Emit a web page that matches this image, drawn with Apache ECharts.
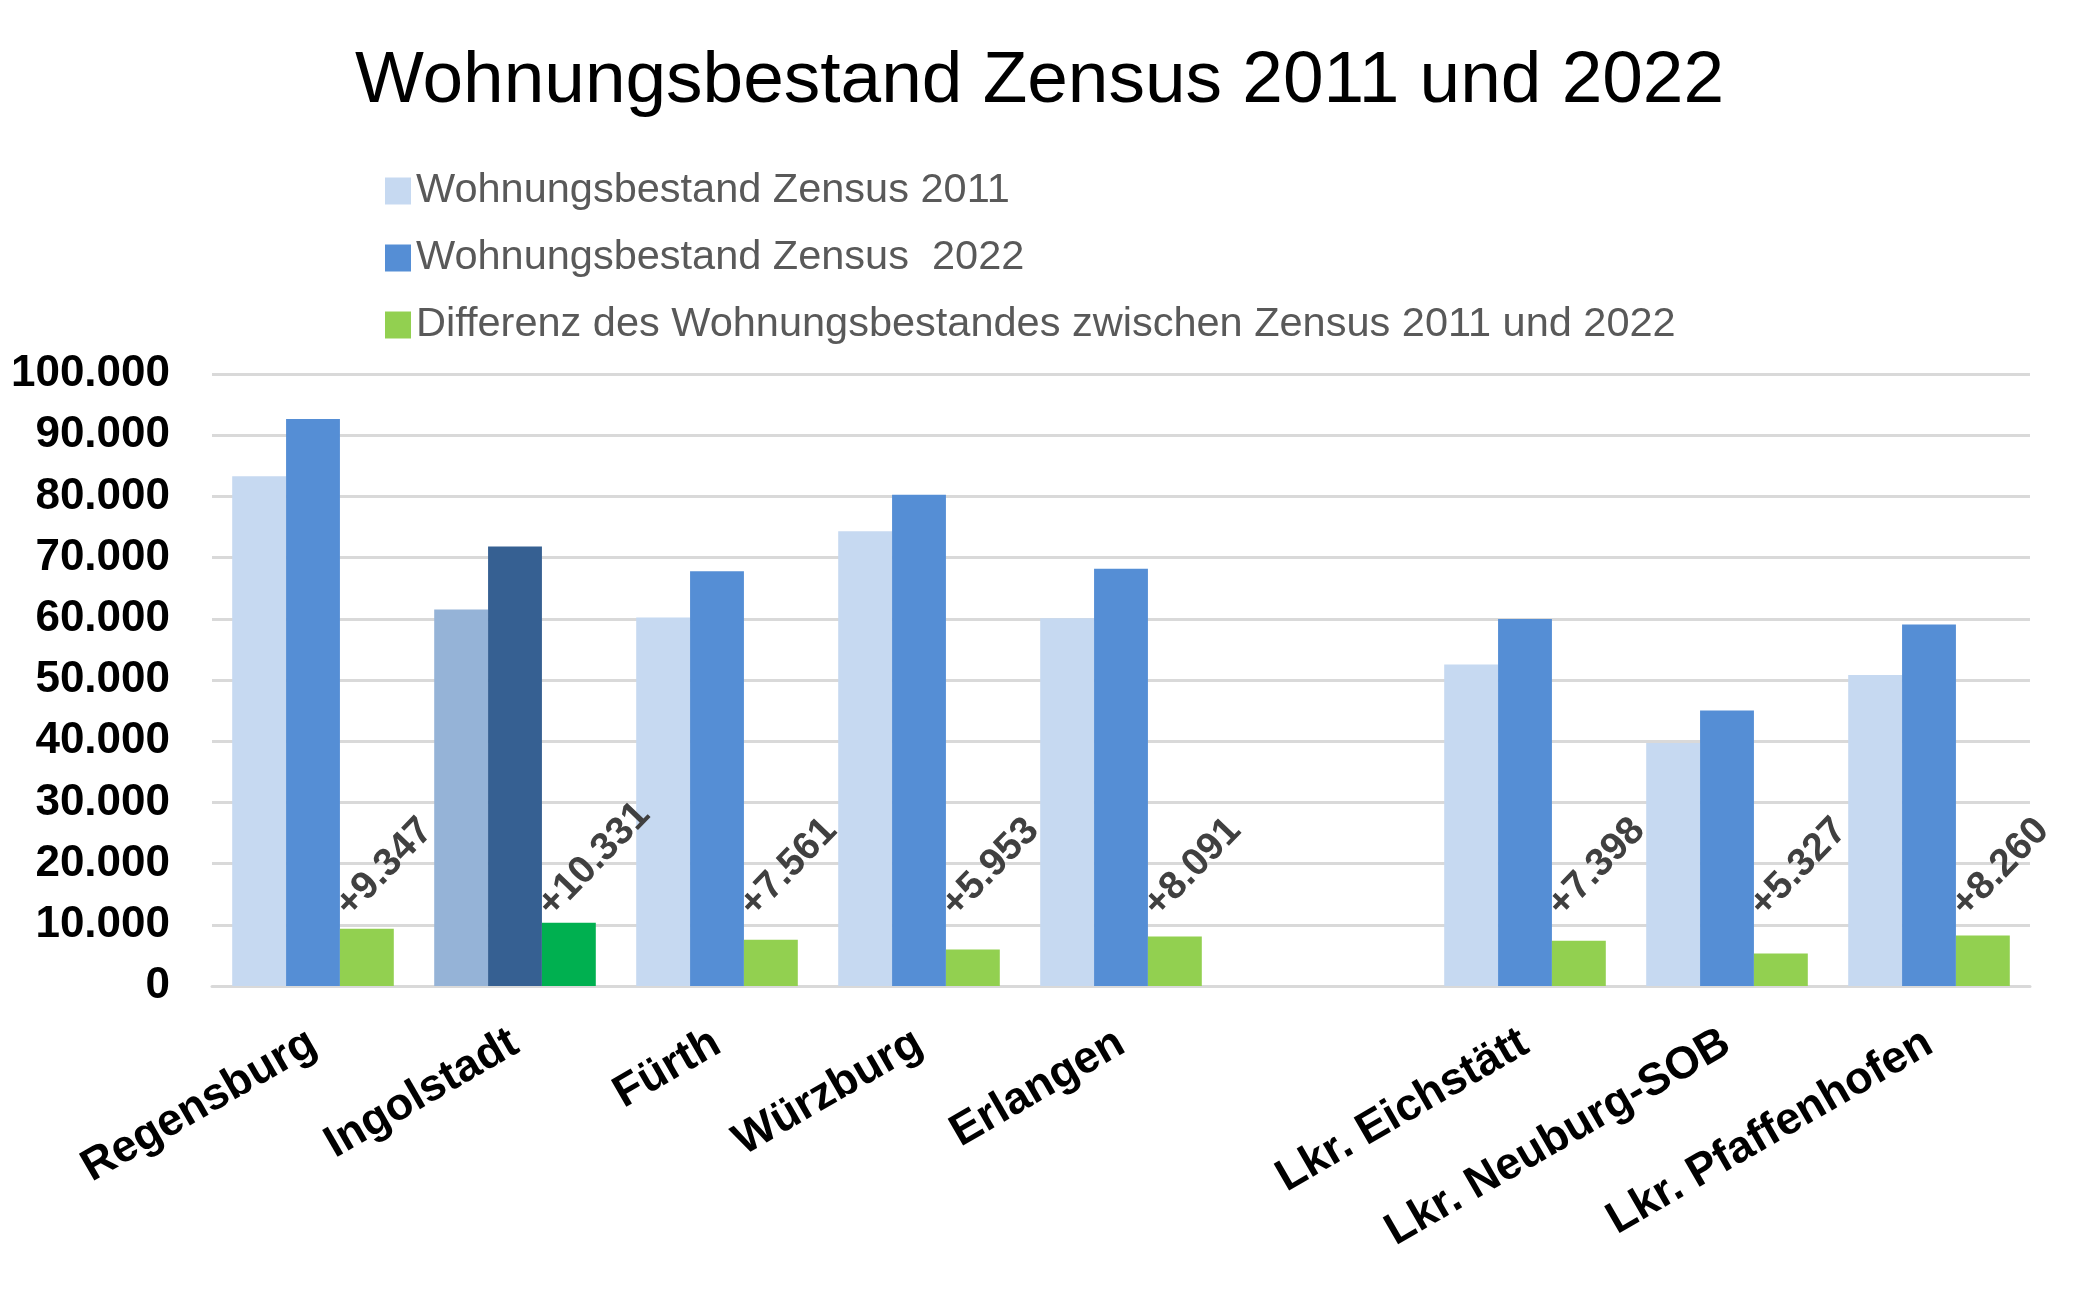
<!DOCTYPE html>
<html>
<head>
<meta charset="utf-8">
<script src="https://cdn.jsdelivr.net/npm/echarts@6/dist/echarts.min.js"></script>
<style>
html,body{margin:0;padding:0;background:#fff;}
#chart{width:2079px;height:1303px;}
</style>
</head>
<body>
<div id="chart"></div>
<script>
const categories = ['Regensburg','Ingolstadt','Fürth','Würzburg','Erlangen','','Lkr. Eichstätt','Lkr. Neuburg-SOB','Lkr. Pfaffenhofen'];
const bestand2011 = [83300, 61500, 60200, 74300, 60100, null, 52550, 39700, 50800];
const bestand2022 = [92647, 71831, 67761, 80253, 68191, null, 59948, 45027, 59060];
const differenz = [9347, 10331, 7561, 5953, 8091, null, 7398, 5327, 8260];
const seriesNames = ['Wohnungsbestand Zensus 2011', 'Wohnungsbestand Zensus  2022', 'Differenz des Wohnungsbestandes zwischen Zensus 2011 und 2022'];
const yTicks = [0, 10000, 20000, 30000, 40000, 50000, 60000, 70000, 80000, 90000, 100000];

const FONT = '"Liberation Sans", Arial, sans-serif';
const highlightIndex = 1; // Ingolstadt drawn in darker shades
const baseColors = ['#C6D9F1', '#558ED5', '#92D050'];
const highlightColors = ['#95B3D7', '#366092', '#00B050'];

function fmt(v) {
  return String(v).replace(/\B(?=(\d{3})+(?!\d))/g, '.');
}
function buildData(arr, si) {
  return arr.map((v, i) => i === highlightIndex
    ? { value: v, itemStyle: { color: highlightColors[si] } }
    : v);
}

const chart = echarts.init(document.getElementById('chart'), null, { renderer: 'canvas' });
chart.setOption({
  animation: false,
  backgroundColor: '#fff',
  title: {
    text: 'Wohnungsbestand Zensus 2011 und 2022',
    left: 'center',
    top: 40,
    textStyle: { fontFamily: FONT, fontSize: 73, fontWeight: 'normal', color: '#000' }
  },
  legend: {
    orient: 'vertical',
    left: 380,
    top: 165,
    itemWidth: 26,
    itemHeight: 27,
    itemGap: 25,
    icon: 'rect',
    textStyle: { fontFamily: FONT, fontSize: 41.5, color: '#595959' },
    data: seriesNames
  },
  grid: { left: 212, right: 49, top: 374, bottom: 317, containLabel: false },
  xAxis: {
    type: 'category',
    data: categories,
    axisLine: { show: true, lineStyle: { color: '#D9D9D9', width: 3 } },
    axisTick: { show: false },
    axisLabel: {
      interval: 0,
      rotate: 30,
      margin: 54,
      fontFamily: FONT,
      fontSize: 45,
      fontWeight: 'bold',
      color: '#000'
    }
  },
  yAxis: {
    type: 'value',
    min: yTicks[0],
    max: yTicks[yTicks.length - 1],
    interval: yTicks[1] - yTicks[0],
    axisLine: { show: false },
    axisTick: { show: false },
    splitLine: { lineStyle: { color: '#D9D9D9', width: 3 } },
    axisLabel: {
      margin: 42,
      fontFamily: FONT,
      fontSize: 44,
      fontWeight: 'bold',
      color: '#000',
      formatter: v => fmt(v)
    }
  },
  series: [
    {
      name: seriesNames[0], type: 'bar', barGap: '0%', barCategoryGap: '20%',
      itemStyle: { color: baseColors[0] },
      data: buildData(bestand2011, 0)
    },
    {
      name: seriesNames[1], type: 'bar', barGap: '0%', barCategoryGap: '20%',
      itemStyle: { color: baseColors[1] },
      data: buildData(bestand2022, 1)
    },
    {
      name: seriesNames[2], type: 'bar', barGap: '0%', barCategoryGap: '20%',
      itemStyle: { color: baseColors[2] },
      data: buildData(differenz, 2),
      label: {
        show: true,
        position: ['0%', '100%'],
        offset: [56, -50],
        rotate: 46,
        align: 'left',
        verticalAlign: 'middle',
        fontFamily: FONT,
        fontSize: 39,
        fontWeight: 'bold',
        color: '#404040',
        formatter: p => p.value == null ? '' : '+' + fmt(p.value)
      }
    }
  ]
});
</script>
</body>
</html>
